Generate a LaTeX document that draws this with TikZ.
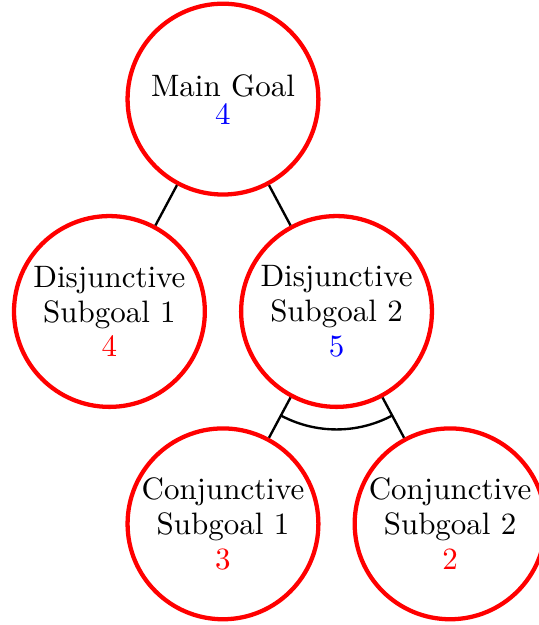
\documentclass[tikz,border=0pt]{standalone}
\usepackage{tikz}
\usetikzlibrary{calc,positioning}

\begin{document}
\begin{tikzpicture}[x=1pt,y=1pt,font=\fontsize{10.5pt}{11.8pt}\selectfont]

\tikzset{goalnode/.style={draw=red,line width=1.45pt,shape=circle,minimum size=64.7pt,inner sep=0pt,align=center},
edge/.style={thick}}

\useasboundingbox (-75.6,33.6) rectangle (107.1,-178.3);

% Main goal
\node[goalnode] (main) at (0,0) {Main Goal\\[-2.3pt]\textcolor{blue}{4}};

% Disjunctive subgoals
\node[goalnode] (d1) at ($(main) + (-38.5,-72)$) {Disjunctive\\Subgoal 1\\\textcolor{red}{4}};
\node[goalnode] (d2) at ($(main) + (38.5,-72)$) {Disjunctive\\Subgoal 2\\\textcolor{blue}{5}};

% Conjunctive subgoals
\node[goalnode] (c1) at ($(d2) + (-38.5,-72)$) {Conjunctive\\Subgoal 1\\\textcolor{red}{3}};
\node[goalnode] (c2) at ($(d2) + (38.5,-72)$) {Conjunctive\\Subgoal 2\\\textcolor{red}{2}};

% Edges
\draw[edge] (main) -- (d1);
\draw[edge] (main) -- (d2);
\draw[edge] (d2) -- (c1);
\draw[edge] (d2) -- (c2);

% AND arc
\draw[edge] ($(d2.center) + (241.86:40)$) arc[start angle=241.86, end angle=298.14, radius=40];

\end{tikzpicture}
\end{document}
